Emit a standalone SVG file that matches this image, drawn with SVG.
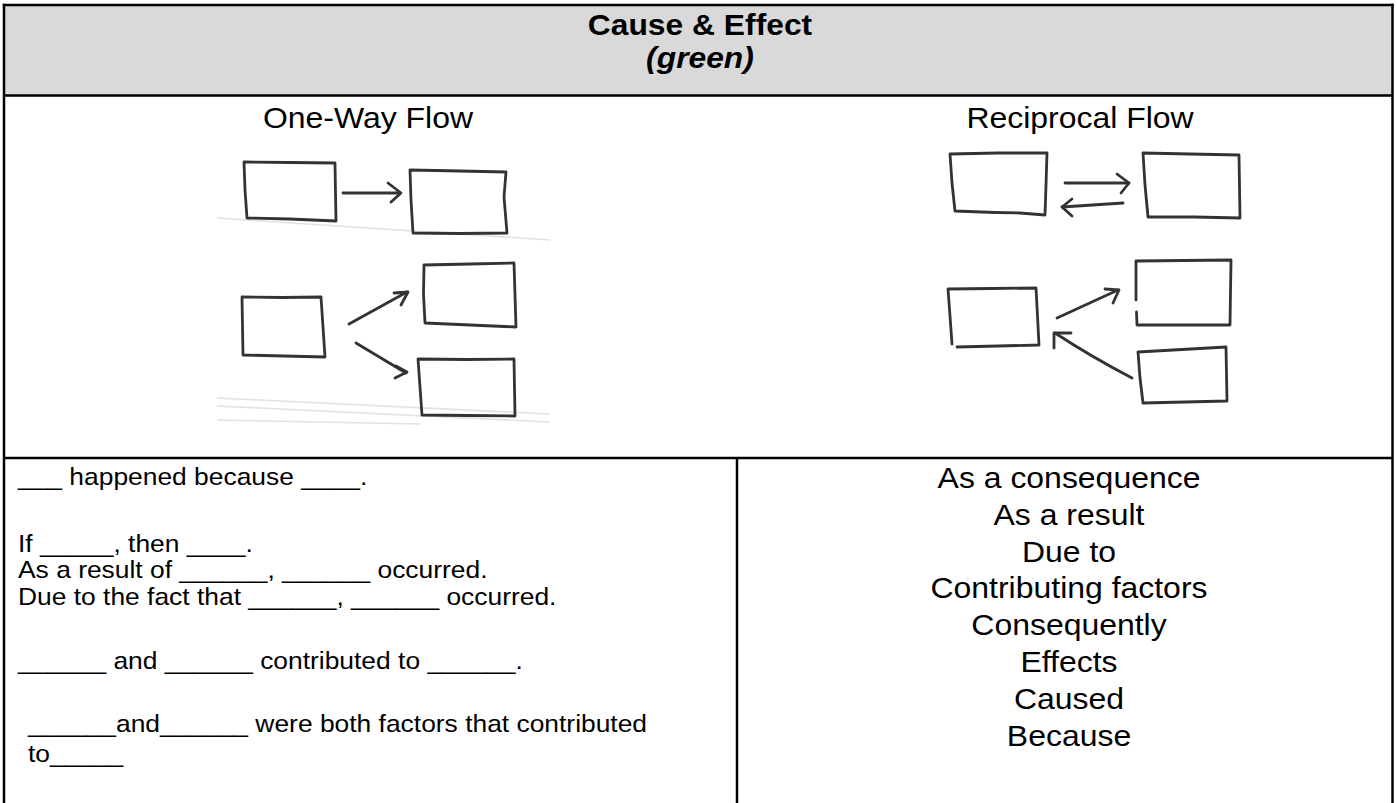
<svg xmlns="http://www.w3.org/2000/svg" width="1397" height="803" viewBox="0 0 1397 803">
  <style>
    .grid { stroke: #000; stroke-width: 2.5; fill: none; }
    .pen { stroke: #333; stroke-width: 2.8; fill: none; stroke-linecap: round; stroke-linejoin: round; }
    .faint { stroke: #e2e2e2; stroke-width: 1.6; fill: none; }
    .txt { font-family: "Liberation Sans", Arial, sans-serif; fill: #000; }
    .title { font-size: 30px; font-weight: bold; text-anchor: middle; }
    .label { font-size: 30px; text-anchor: middle; }
    .frame { font-size: 24px; }
    .word { font-size: 30px; text-anchor: middle; }
  </style>

  <rect x="0" y="0" width="1397" height="803" fill="#fff"/>

  <!-- header band -->
  <rect x="4" y="5" width="1388.5" height="90.5" fill="#d9d9d9"/>

  <!-- table rules -->
  <g id="table">
    <line class="grid" x1="2.8" y1="5" x2="1393.7" y2="5"/>
    <line class="grid" x1="4" y1="3.8" x2="4" y2="803"/>
    <line class="grid" x1="1392.5" y1="3.8" x2="1392.5" y2="803"/>
    <line class="grid" x1="4" y1="95.5" x2="1392.5" y2="95.5"/>
    <line class="grid" x1="4" y1="458" x2="1392.5" y2="458"/>
    <line class="grid" x1="737" y1="458" x2="737" y2="803"/>
  </g>

  <!-- heading -->
  <g id="heading" class="txt">
    <g transform="translate(700,0) scale(1.06,1)">
      <text class="title" x="0" y="35">Cause &amp; Effect</text>
      <text class="title" x="0" y="68" font-style="italic">(green)</text>
    </g>
  </g>

  <!-- column labels -->
  <g id="label-one-way" class="txt">
    <text class="label" transform="translate(368,128) scale(1.065,1)">One-Way Flow</text>
  </g>
  <g id="label-reciprocal" class="txt">
    <text class="label" transform="translate(1080,128) scale(1.065,1)">Reciprocal Flow</text>
  </g>

  <!-- faint marks on the sketch sheet -->
  <g id="scan-marks">
    <path class="faint" d="M217,218 L550,240"/>
    <path class="faint" d="M217,398 L550,414"/>
    <path class="faint" d="M217,406 L550,422"/>
    <path class="faint" d="M217,420 L420,424"/>
  </g>

  <!-- one-way sketch boxes -->
  <g id="ow-cause-top"><path class="pen" d="M244,162 L290,162.5 L335,163 L335.5,192 L336,221 L290,219 L247,218 L245,190 Z"/></g>
  <g id="ow-effect-top"><path class="pen" d="M410,170 L460,171 L506,172 L504,197 L507,233 L460,233.5 L413,233 L411,200 Z"/></g>
  <g id="ow-cause-bottom"><path class="pen" d="M242,297 L282,297.5 L321,297 L323,327 L325,357 L284,356 L243,355 L242.5,326 Z"/></g>
  <g id="ow-effect-mid"><path class="pen" d="M424,265 L470,264 L514,263 L515,295 L516,327 L470,325 L425,323 L423.5,294 Z"/></g>
  <g id="ow-effect-low"><path class="pen" d="M418,359 L466,359.5 L514,359 L514.5,388 L515,416 L468,415.5 L422,415 L420,387 Z"/></g>

  <!-- reciprocal sketch boxes -->
  <g id="rc-a-top"><path class="pen" d="M950,154 L998,153 L1047,153 L1046,185 L1045,215 L1020,213 L995,212.5 L955,211 L952,183 Z"/></g>
  <g id="rc-b-top"><path class="pen" d="M1143,153 L1190,154 L1239,155 L1239.5,187 L1240,218 L1194,217 L1148,217 L1145,185 Z"/></g>
  <g id="rc-a-mid"><path class="pen" d="M952,344 L950,316 L948,289 L992,288.5 L1036,288 L1037.5,316 L1039,345 L998,346 L957,347"/></g>
  <g id="rc-b-mid"><path class="pen" d="M1136,300 L1136,261 L1184,260.5 L1231,260 L1230.5,292 L1230,325 L1184,325 L1137,325 L1136.5,312"/></g>
  <g id="rc-c-low"><path class="pen" d="M1138,352 L1182,349.5 L1226,347 L1226.5,374 L1227,401 L1185,402 L1143,403 L1140,378 Z"/></g>

  <!-- connectors -->
  <g id="connectors">
    <path class="pen" d="M343,193 L400,193"/>
    <path class="pen" d="M388,183 L401,193 L391,202"/>

    <path class="pen" d="M349,324 L407,292"/>
    <path class="pen" d="M394,293 L408,292 L401,305"/>

    <path class="pen" d="M356,343 L406,373"/>
    <path class="pen" d="M396,366 L407,372 L395,378"/>

    <path class="pen" d="M1065,183 L1129,183"/>
    <path class="pen" d="M1117,174 L1129,183 L1121,193"/>

    <path class="pen" d="M1123,203 L1062,207"/>
    <path class="pen" d="M1072,199 L1062,207 L1072,216"/>

    <path class="pen" d="M1057,318 L1118,290"/>
    <path class="pen" d="M1105,289 L1119,290 L1113,303"/>

    <path class="pen" d="M1132,378 Q1090,356 1055,333"/>
    <path class="pen" d="M1054,348 L1054,333 L1071,333"/>
  </g>

  <!-- sentence frames -->
  <g id="sentence-frames" class="txt frame">
    <g transform="translate(18,0) scale(1.1,1)">
      <text x="0" y="485">___ happened because ____.</text>
      <text x="0" y="552">If _____, then ____.</text>
      <text x="0" y="578">As a result of ______, ______ occurred.</text>
      <text x="0" y="605">Due to the fact that ______, ______ occurred.</text>
      <text x="0" y="669">______ and ______ contributed to ______.</text>
      <text x="9" y="732">______and______ were both factors that contributed</text>
      <text x="9" y="762">to_____</text>
    </g>
  </g>

  <!-- signal words -->
  <g id="signal-words" class="txt">
    <g transform="translate(1069,0) scale(1.065,1)">
      <text class="word" x="0" y="488">As a consequence</text>
      <text class="word" x="0" y="525">As a result</text>
      <text class="word" x="0" y="562">Due to</text>
      <text class="word" x="0" y="598">Contributing factors</text>
      <text class="word" x="0" y="635">Consequently</text>
      <text class="word" x="0" y="672">Effects</text>
      <text class="word" x="0" y="709">Caused</text>
      <text class="word" x="0" y="746">Because</text>
    </g>
  </g>
</svg>
